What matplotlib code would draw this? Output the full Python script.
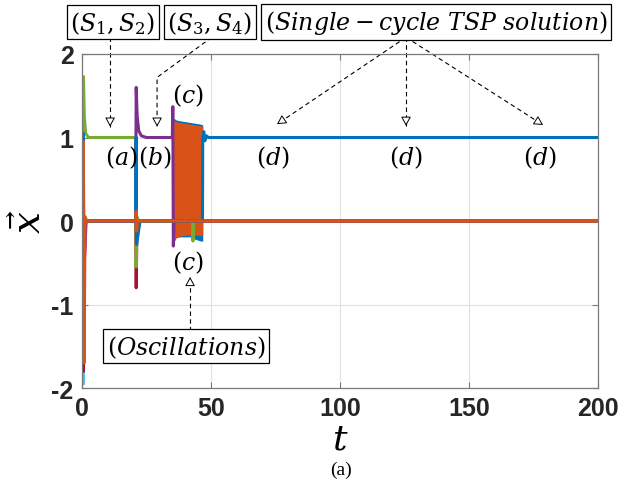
import matplotlib
matplotlib.use('Agg')
import matplotlib.pyplot as plt

plt.rcParams['mathtext.fontset'] = 'dejavuserif'

# MATLAB default line colours
C_BLUE = '#0072BD'
C_ORANGE = '#D95319'
C_YELLOW = '#EDB120'
C_PURPLE = '#7E2F8E'
C_GREEN = '#77AC30'
C_LBLUE = '#4DBEEE'
C_RED = '#A2142F'

# neuron state trajectories as (t, x) key points
yellow_t = [0, 0.5, 0.9, 1.5, 200]
yellow_x = [0.0, 0.30, -0.20, 0.0, 0.0]

lblue_t = [0, 0.5, 0.55, 0.8, 1.2, 200]
lblue_x = [0.0, 1.10, -1.95, -0.60, 0.0, 0.0]

red_t = [0, 0.5, 0.58, 0.9, 1.4, 20.8, 21.0, 21.3, 22.0, 200]
red_x = [0.0, -1.40, -1.80, -0.50, 0.0, 0.0, -0.80, -0.10, 0.0, 0.0]

green_t = [0, 0.5, 0.55, 0.9, 1.4, 2.5, 20.8, 21.0, 21.3, 22.0,
           42.9, 43.0, 43.3, 200]
green_x = [0.55, 0.55, 1.73, 1.25, 1.05, 1.0, 1.0, -0.55, 0.05, 0.0,
           0.0, -0.24, 0.0, 0.0]

purple_t = [0, 0.5, 0.6, 0.8, 1.6, 20.8, 21.0, 21.4, 22.0, 23.0, 25.0,
            35.0, 35.2, 35.4, 35.7, 200]
purple_x = [0.0, 0.60, -0.60, -0.55, 0.0, 0.0, 1.60, 1.25, 1.08, 1.02, 1.0,
            1.0, 1.37, -0.30, 0.0, 0.0]

blue_t = [0, 0.5, 0.65, 1.0, 1.8, 20.8, 21.0, 21.15, 22.5, 46.7, 46.8,
          47.2, 47.6, 48.2, 49.0, 200]
blue_x = [0.0, 1.05, -0.12, -0.05, 0.0, 0.0, 1.0, -0.28, 0.0, 0.0, 1.0,
          1.07, 0.96, 1.02, 1.0, 1.0]

orange_t = [0, 0.5, 0.55, 0.8, 1.2, 1.8, 20.8, 21.0, 21.2, 21.5, 200]
orange_x = [0.0, 0.95, 0.90, -1.70, 0.05, 0.0, 0.0, 0.12, -0.12, 0.0, 0.0]

# envelopes of the fast oscillation stage (c)
band_t = [35.1, 35.6, 36.5, 38.0, 40.0, 42.0, 44.0, 46.0, 46.8]
blue_hi = [1.24, 1.23, 1.21, 1.20, 1.19, 1.18, 1.17, 1.16, 1.15]
blue_lo = [-0.26, -0.22, -0.20, -0.19, -0.19, -0.19, -0.22, -0.24, -0.24]
orange_hi = [1.30, 1.20, 1.19, 1.18, 1.17, 1.16, 1.15, 1.14, 1.13]
orange_lo = [-0.32, -0.26, -0.20, -0.18, -0.17, -0.17, -0.17, -0.17, -0.17]

fig = plt.figure(figsize=(6.25, 4.85), dpi=100)
ax = fig.add_axes([0.1312, 0.1979, 0.8256, 0.6887])

lw = 2.2
ax.plot(yellow_t, yellow_x, color=C_YELLOW, lw=lw)
ax.plot(lblue_t, lblue_x, color=C_LBLUE, lw=lw)
ax.plot(red_t, red_x, color=C_RED, lw=lw)
ax.plot(green_t, green_x, color=C_GREEN, lw=lw)
ax.plot(purple_t, purple_x, color=C_PURPLE, lw=lw)
ax.fill_between(band_t, blue_lo, blue_hi, color=C_BLUE, lw=0)
ax.plot(blue_t, blue_x, color=C_BLUE, lw=lw)
ax.fill_between(band_t, orange_lo, orange_hi, color=C_ORANGE, lw=0)
ax.plot(orange_t, orange_x, color=C_ORANGE, lw=lw)

ax.set_xlim(0, 200)
ax.set_ylim(-2, 2)
ax.set_xticks([0, 50, 100, 150, 200])
ax.set_yticks([-2, -1, 0, 1, 2])
ax.set_yticklabels(['-2', '-1', '0', '1', '2'])
ax.grid(True, color='#e0e0e0', lw=0.8)
ax.set_axisbelow(True)
for s in ax.spines.values():
    s.set_color('#7a7a7a')
    s.set_linewidth(0.9)
ax.tick_params(direction='in', length=4, width=0.8, color='#7a7a7a',
               top=True, right=True, labelcolor='#262626', pad=6)
for lab in ax.get_xticklabels() + ax.get_yticklabels():
    lab.set_fontfamily('Liberation Sans')
    lab.set_fontweight('bold')
    lab.set_fontsize(18)

ax.set_xlabel(r'$t$', fontsize=26, labelpad=1)
ax.set_ylabel(r'$\vec{x}$', fontsize=28, labelpad=2)

fig.text(0.546, 0.030, '(a)', family='Liberation Serif', fontsize=14,
         ha='center', va='center')

# stage labels
stage_labels = ['(a)', '(b)', '(c)', '(c)', '(d)', '(d)', '(d)']
stage_t = [15.1, 28.3, 41.1, 41.1, 74.0, 125.6, 177.5]
stage_y = [0.77, 0.77, 1.51, -0.49, 0.77, 0.77, 0.77]
for lab, tx, ty in zip(stage_labels, stage_t, stage_y):
    ax.text(tx, ty, '$' + lab + '$', fontsize=17, ha='center', va='center')

box = dict(boxstyle='square,pad=0.16', fc='white', ec='black', lw=0.9)
ax.text(12.0, 2.38, r'$(S_1,S_2)$', fontsize=17, ha='center', va='center',
        bbox=box, clip_on=False)
ax.text(49.6, 2.38, r'$(S_3,S_4)$', fontsize=17, ha='center', va='center',
        bbox=box, clip_on=False)
ax.text(137.2, 2.38, r'$(Single-cycle\ TSP\ solution)$', fontsize=17,
        ha='center', va='center', bbox=box, clip_on=False)
ax.text(40.3, -1.50, r'$(Oscillations)$', fontsize=17, ha='center',
        va='center', bbox=box, clip_on=False)


def dashed_arrow(xs, ys):
    ax.plot(xs, ys, color='black', lw=0.8, ls=(0, (4, 3)), clip_on=False)
    dx = xs[-1] - xs[-2]
    dy = ys[-1] - ys[-2]
    ax.annotate('', xy=(xs[-1], ys[-1]),
                xytext=(xs[-1] - 0.05 * dx, ys[-1] - 0.05 * dy),
                arrowprops=dict(arrowstyle='-|>,head_length=0.55,head_width=0.3',
                                fc='white', ec='black', lw=0.7,
                                shrinkA=0, shrinkB=0),
                annotation_clip=False)


dashed_arrow([10.9, 10.9], [2.20, 1.13])
dashed_arrow([50.3, 29.1, 29.1], [2.20, 1.72, 1.13])
dashed_arrow([125.6, 75.6], [2.20, 1.16])
dashed_arrow([125.6, 125.6], [2.20, 1.14])
dashed_arrow([125.6, 178.7], [2.20, 1.15])
dashed_arrow([41.9, 41.9], [-1.32, -0.67])

fig.savefig('out.png', dpi=100)
